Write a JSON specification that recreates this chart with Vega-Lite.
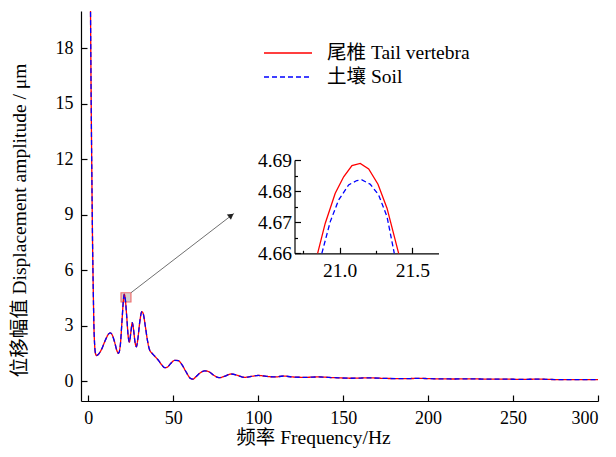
{
  "$schema": "https://vega.github.io/schema/vega-lite/v6.json",
  "width": 517,
  "height": 390,
  "autosize": {"type": "none"},
  "padding": {"left": 81, "top": 11, "right": 18, "bottom": 56},
  "config": {
    "view": {"stroke": null},
    "style": {"guide-label": {"font": "'Liberation Serif', serif"}, "guide-title": {"font": "'Liberation Serif', 'Noto Sans CJK SC', serif"}},
    "axis": {
      "grid": false,
      "labelFont": "'Liberation Serif', serif",
      "titleFont": "'Liberation Serif', 'Noto Sans CJK SC', serif",
      "labelFontSize": 18,
      "titleFontSize": 19.5,
      "titleFontWeight": "normal",
      "labelColor": "#000",
      "titleColor": "#000",
      "domainColor": "#000",
      "tickColor": "#000",
      "domainWidth": 1.2,
      "tickWidth": 1.2
    }
  },
  "datasets": {
    "main": [
      {"f": 0.9, "a": 26, "s": "尾椎 Tail vertebra"},
      {"f": 1.3, "a": 20, "s": "尾椎 Tail vertebra"},
      {"f": 1.7, "a": 15, "s": "尾椎 Tail vertebra"},
      {"f": 2.1, "a": 11, "s": "尾椎 Tail vertebra"},
      {"f": 2.5, "a": 7.5, "s": "尾椎 Tail vertebra"},
      {"f": 2.9, "a": 5, "s": "尾椎 Tail vertebra"},
      {"f": 3.3, "a": 3, "s": "尾椎 Tail vertebra"},
      {"f": 3.7, "a": 2, "s": "尾椎 Tail vertebra"},
      {"f": 4.2, "a": 1.5, "s": "尾椎 Tail vertebra"},
      {"f": 4.8, "a": 1.38, "s": "尾椎 Tail vertebra"},
      {"f": 6, "a": 1.45, "s": "尾椎 Tail vertebra"},
      {"f": 8, "a": 1.75, "s": "尾椎 Tail vertebra"},
      {"f": 10, "a": 2.2, "s": "尾椎 Tail vertebra"},
      {"f": 12, "a": 2.55, "s": "尾椎 Tail vertebra"},
      {"f": 13, "a": 2.6, "s": "尾椎 Tail vertebra"},
      {"f": 14, "a": 2.5, "s": "尾椎 Tail vertebra"},
      {"f": 15.5, "a": 2.1, "s": "尾椎 Tail vertebra"},
      {"f": 17, "a": 1.6, "s": "尾椎 Tail vertebra"},
      {"f": 17.8, "a": 1.5, "s": "尾椎 Tail vertebra"},
      {"f": 18.8, "a": 1.9, "s": "尾椎 Tail vertebra"},
      {"f": 19.8, "a": 3.2, "s": "尾椎 Tail vertebra"},
      {"f": 20.6, "a": 4.3, "s": "尾椎 Tail vertebra"},
      {"f": 21.15, "a": 4.689, "s": "尾椎 Tail vertebra"},
      {"f": 21.8, "a": 4.4, "s": "尾椎 Tail vertebra"},
      {"f": 22.6, "a": 3.5, "s": "尾椎 Tail vertebra"},
      {"f": 23.5, "a": 2.4, "s": "尾椎 Tail vertebra"},
      {"f": 24.2, "a": 2.1, "s": "尾椎 Tail vertebra"},
      {"f": 25, "a": 2.6, "s": "尾椎 Tail vertebra"},
      {"f": 25.9, "a": 3.15, "s": "尾椎 Tail vertebra"},
      {"f": 26.6, "a": 2.8, "s": "尾椎 Tail vertebra"},
      {"f": 27.5, "a": 2.1, "s": "尾椎 Tail vertebra"},
      {"f": 28.3, "a": 1.85, "s": "尾椎 Tail vertebra"},
      {"f": 29.2, "a": 2.3, "s": "尾椎 Tail vertebra"},
      {"f": 30.3, "a": 3.2, "s": "尾椎 Tail vertebra"},
      {"f": 31.5, "a": 3.75, "s": "尾椎 Tail vertebra"},
      {"f": 32.3, "a": 3.65, "s": "尾椎 Tail vertebra"},
      {"f": 33.5, "a": 3.0, "s": "尾椎 Tail vertebra"},
      {"f": 34.8, "a": 2.2, "s": "尾椎 Tail vertebra"},
      {"f": 36, "a": 1.7, "s": "尾椎 Tail vertebra"},
      {"f": 37.5, "a": 1.5, "s": "尾椎 Tail vertebra"},
      {"f": 39, "a": 1.35, "s": "尾椎 Tail vertebra"},
      {"f": 41, "a": 1.15, "s": "尾椎 Tail vertebra"},
      {"f": 43, "a": 0.9, "s": "尾椎 Tail vertebra"},
      {"f": 45, "a": 0.72, "s": "尾椎 Tail vertebra"},
      {"f": 46.5, "a": 0.75, "s": "尾椎 Tail vertebra"},
      {"f": 48.5, "a": 0.95, "s": "尾椎 Tail vertebra"},
      {"f": 51, "a": 1.12, "s": "尾椎 Tail vertebra"},
      {"f": 53, "a": 1.1, "s": "尾椎 Tail vertebra"},
      {"f": 55, "a": 0.9, "s": "尾椎 Tail vertebra"},
      {"f": 57.5, "a": 0.5, "s": "尾椎 Tail vertebra"},
      {"f": 60, "a": 0.15, "s": "尾椎 Tail vertebra"},
      {"f": 61.5, "a": 0.1, "s": "尾椎 Tail vertebra"},
      {"f": 63.5, "a": 0.25, "s": "尾椎 Tail vertebra"},
      {"f": 66, "a": 0.45, "s": "尾椎 Tail vertebra"},
      {"f": 68.5, "a": 0.55, "s": "尾椎 Tail vertebra"},
      {"f": 71, "a": 0.5, "s": "尾椎 Tail vertebra"},
      {"f": 74, "a": 0.3, "s": "尾椎 Tail vertebra"},
      {"f": 77, "a": 0.18, "s": "尾椎 Tail vertebra"},
      {"f": 80, "a": 0.25, "s": "尾椎 Tail vertebra"},
      {"f": 84, "a": 0.38, "s": "尾椎 Tail vertebra"},
      {"f": 88, "a": 0.3, "s": "尾椎 Tail vertebra"},
      {"f": 92, "a": 0.2, "s": "尾椎 Tail vertebra"},
      {"f": 96, "a": 0.25, "s": "尾椎 Tail vertebra"},
      {"f": 100, "a": 0.3, "s": "尾椎 Tail vertebra"},
      {"f": 105, "a": 0.25, "s": "尾椎 Tail vertebra"},
      {"f": 110, "a": 0.22, "s": "尾椎 Tail vertebra"},
      {"f": 115, "a": 0.27, "s": "尾椎 Tail vertebra"},
      {"f": 120, "a": 0.22, "s": "尾椎 Tail vertebra"},
      {"f": 128, "a": 0.2, "s": "尾椎 Tail vertebra"},
      {"f": 135, "a": 0.22, "s": "尾椎 Tail vertebra"},
      {"f": 145, "a": 0.18, "s": "尾椎 Tail vertebra"},
      {"f": 155, "a": 0.15, "s": "尾椎 Tail vertebra"},
      {"f": 165, "a": 0.17, "s": "尾椎 Tail vertebra"},
      {"f": 175, "a": 0.14, "s": "尾椎 Tail vertebra"},
      {"f": 185, "a": 0.13, "s": "尾椎 Tail vertebra"},
      {"f": 195, "a": 0.14, "s": "尾椎 Tail vertebra"},
      {"f": 205, "a": 0.12, "s": "尾椎 Tail vertebra"},
      {"f": 215, "a": 0.11, "s": "尾椎 Tail vertebra"},
      {"f": 225, "a": 0.12, "s": "尾椎 Tail vertebra"},
      {"f": 235, "a": 0.1, "s": "尾椎 Tail vertebra"},
      {"f": 245, "a": 0.1, "s": "尾椎 Tail vertebra"},
      {"f": 255, "a": 0.09, "s": "尾椎 Tail vertebra"},
      {"f": 265, "a": 0.1, "s": "尾椎 Tail vertebra"},
      {"f": 275, "a": 0.08, "s": "尾椎 Tail vertebra"},
      {"f": 285, "a": 0.08, "s": "尾椎 Tail vertebra"},
      {"f": 300, "a": 0.07, "s": "尾椎 Tail vertebra"},
      {"f": 0.9, "a": 26, "s": "土壤 Soil"},
      {"f": 1.3, "a": 20, "s": "土壤 Soil"},
      {"f": 1.7, "a": 15, "s": "土壤 Soil"},
      {"f": 2.1, "a": 11, "s": "土壤 Soil"},
      {"f": 2.5, "a": 7.5, "s": "土壤 Soil"},
      {"f": 2.9, "a": 5, "s": "土壤 Soil"},
      {"f": 3.3, "a": 3, "s": "土壤 Soil"},
      {"f": 3.7, "a": 2, "s": "土壤 Soil"},
      {"f": 4.2, "a": 1.5, "s": "土壤 Soil"},
      {"f": 4.8, "a": 1.38, "s": "土壤 Soil"},
      {"f": 6, "a": 1.45, "s": "土壤 Soil"},
      {"f": 8, "a": 1.75, "s": "土壤 Soil"},
      {"f": 10, "a": 2.2, "s": "土壤 Soil"},
      {"f": 12, "a": 2.55, "s": "土壤 Soil"},
      {"f": 13, "a": 2.6, "s": "土壤 Soil"},
      {"f": 14, "a": 2.5, "s": "土壤 Soil"},
      {"f": 15.5, "a": 2.1, "s": "土壤 Soil"},
      {"f": 17, "a": 1.6, "s": "土壤 Soil"},
      {"f": 17.8, "a": 1.5, "s": "土壤 Soil"},
      {"f": 18.8, "a": 1.9, "s": "土壤 Soil"},
      {"f": 19.8, "a": 3.2, "s": "土壤 Soil"},
      {"f": 20.6, "a": 4.3, "s": "土壤 Soil"},
      {"f": 21.15, "a": 4.6835, "s": "土壤 Soil"},
      {"f": 21.8, "a": 4.4, "s": "土壤 Soil"},
      {"f": 22.6, "a": 3.5, "s": "土壤 Soil"},
      {"f": 23.5, "a": 2.4, "s": "土壤 Soil"},
      {"f": 24.2, "a": 2.1, "s": "土壤 Soil"},
      {"f": 25, "a": 2.6, "s": "土壤 Soil"},
      {"f": 25.9, "a": 3.15, "s": "土壤 Soil"},
      {"f": 26.6, "a": 2.8, "s": "土壤 Soil"},
      {"f": 27.5, "a": 2.1, "s": "土壤 Soil"},
      {"f": 28.3, "a": 1.85, "s": "土壤 Soil"},
      {"f": 29.2, "a": 2.3, "s": "土壤 Soil"},
      {"f": 30.3, "a": 3.2, "s": "土壤 Soil"},
      {"f": 31.5, "a": 3.75, "s": "土壤 Soil"},
      {"f": 32.3, "a": 3.65, "s": "土壤 Soil"},
      {"f": 33.5, "a": 3.0, "s": "土壤 Soil"},
      {"f": 34.8, "a": 2.2, "s": "土壤 Soil"},
      {"f": 36, "a": 1.7, "s": "土壤 Soil"},
      {"f": 37.5, "a": 1.5, "s": "土壤 Soil"},
      {"f": 39, "a": 1.35, "s": "土壤 Soil"},
      {"f": 41, "a": 1.15, "s": "土壤 Soil"},
      {"f": 43, "a": 0.9, "s": "土壤 Soil"},
      {"f": 45, "a": 0.72, "s": "土壤 Soil"},
      {"f": 46.5, "a": 0.75, "s": "土壤 Soil"},
      {"f": 48.5, "a": 0.95, "s": "土壤 Soil"},
      {"f": 51, "a": 1.12, "s": "土壤 Soil"},
      {"f": 53, "a": 1.1, "s": "土壤 Soil"},
      {"f": 55, "a": 0.9, "s": "土壤 Soil"},
      {"f": 57.5, "a": 0.5, "s": "土壤 Soil"},
      {"f": 60, "a": 0.15, "s": "土壤 Soil"},
      {"f": 61.5, "a": 0.1, "s": "土壤 Soil"},
      {"f": 63.5, "a": 0.25, "s": "土壤 Soil"},
      {"f": 66, "a": 0.45, "s": "土壤 Soil"},
      {"f": 68.5, "a": 0.55, "s": "土壤 Soil"},
      {"f": 71, "a": 0.5, "s": "土壤 Soil"},
      {"f": 74, "a": 0.3, "s": "土壤 Soil"},
      {"f": 77, "a": 0.18, "s": "土壤 Soil"},
      {"f": 80, "a": 0.25, "s": "土壤 Soil"},
      {"f": 84, "a": 0.38, "s": "土壤 Soil"},
      {"f": 88, "a": 0.3, "s": "土壤 Soil"},
      {"f": 92, "a": 0.2, "s": "土壤 Soil"},
      {"f": 96, "a": 0.25, "s": "土壤 Soil"},
      {"f": 100, "a": 0.3, "s": "土壤 Soil"},
      {"f": 105, "a": 0.25, "s": "土壤 Soil"},
      {"f": 110, "a": 0.22, "s": "土壤 Soil"},
      {"f": 115, "a": 0.27, "s": "土壤 Soil"},
      {"f": 120, "a": 0.22, "s": "土壤 Soil"},
      {"f": 128, "a": 0.2, "s": "土壤 Soil"},
      {"f": 135, "a": 0.22, "s": "土壤 Soil"},
      {"f": 145, "a": 0.18, "s": "土壤 Soil"},
      {"f": 155, "a": 0.15, "s": "土壤 Soil"},
      {"f": 165, "a": 0.17, "s": "土壤 Soil"},
      {"f": 175, "a": 0.14, "s": "土壤 Soil"},
      {"f": 185, "a": 0.13, "s": "土壤 Soil"},
      {"f": 195, "a": 0.14, "s": "土壤 Soil"},
      {"f": 205, "a": 0.12, "s": "土壤 Soil"},
      {"f": 215, "a": 0.11, "s": "土壤 Soil"},
      {"f": 225, "a": 0.12, "s": "土壤 Soil"},
      {"f": 235, "a": 0.1, "s": "土壤 Soil"},
      {"f": 245, "a": 0.1, "s": "土壤 Soil"},
      {"f": 255, "a": 0.09, "s": "土壤 Soil"},
      {"f": 265, "a": 0.1, "s": "土壤 Soil"},
      {"f": 275, "a": 0.08, "s": "土壤 Soil"},
      {"f": 285, "a": 0.08, "s": "土壤 Soil"},
      {"f": 300, "a": 0.07, "s": "土壤 Soil"}
    ],
    "insetRed": [
      {"f": 20.849, "a": 4.66},
      {"f": 20.901, "a": 4.6696},
      {"f": 20.97, "a": 4.6793},
      {"f": 21.028, "a": 4.6846},
      {"f": 21.085, "a": 4.6882},
      {"f": 21.142, "a": 4.6889},
      {"f": 21.2, "a": 4.6871},
      {"f": 21.264, "a": 4.6822},
      {"f": 21.326, "a": 4.6745},
      {"f": 21.406, "a": 4.66}
    ],
    "insetBlue": [
      {"f": 20.878, "a": 4.66},
      {"f": 20.936, "a": 4.6702},
      {"f": 20.993, "a": 4.6771},
      {"f": 21.062, "a": 4.682},
      {"f": 21.119, "a": 4.6834},
      {"f": 21.154, "a": 4.6836},
      {"f": 21.211, "a": 4.6822},
      {"f": 21.268, "a": 4.6788},
      {"f": 21.326, "a": 4.6718},
      {"f": 21.376, "a": 4.66}
    ],
    "box": [{"f": 19.25, "f2": 25.1, "a": 4.27, "a2": 4.77}],
    "arrow": [{"f": 25.1, "a": 4.77, "f2": 85.8, "a2": 9.06}],
    "head": [{"f": 84.1, "a": 8.95}]
  },
  "layer": [
    {
      "layer": [
        {
          "data": {"name": "box"},
          "mark": {"type": "rect", "fill": "#c8c0c0", "fillOpacity": 0.8, "stroke": "#f07070", "strokeWidth": 1.2},
          "encoding": {
            "x": {"field": "f", "type": "quantitative", "title": "频率 Frequency/Hz"},
            "x2": {"field": "f2"},
            "y": {"field": "a", "type": "quantitative", "title": "位移幅值 Displacement amplitude / μm"},
            "y2": {"field": "a2"}
          }
        },
        {
          "data": {"name": "main"},
          "transform": [{"filter": "datum.s == '尾椎 Tail vertebra'"}],
          "mark": {"type": "line", "strokeWidth": 1.3, "clip": true, "interpolate": "monotone"},
          "encoding": {
            "x": {
              "field": "f", "type": "quantitative", "title": "频率 Frequency/Hz",
              "scale": {"domain": [-4.3, 300], "nice": false, "zero": false},
              "axis": {
                "values": [0, 50, 100, 150, 200, 250, 300],
                "labelFont": "'Liberation Serif', serif",
                "tickSize": -6, "labelPadding": 14,
                "titleX": 232, "titleY": 36, "titleBaseline": "middle", "titleAlign": "center"
              }
            },
            "y": {
              "field": "a", "type": "quantitative", "title": "位移幅值 Displacement amplitude / μm",
              "scale": {"domain": [-1.08, 20], "nice": false, "zero": false},
              "axis": {
                "values": [0, 3, 6, 9, 12, 15, 18],
                "labelFont": "'Liberation Serif', serif",
                "tickSize": -6, "labelPadding": 14,
                "titleX": -62, "titleY": 209, "titleBaseline": "middle", "titleAlign": "center", "titleAngle": -90
              }
            },
            "color": {
              "field": "s", "type": "nominal",
              "scale": {"domain": ["尾椎 Tail vertebra", "土壤 Soil"], "range": ["#ff0000", "#0000ff"]},
              "legend": {
                "title": null, "orient": "none", "legendX": 194, "legendY": 29, "padding": 0,
                "symbolType": "M-2,0H2", "symbolSize": 576, "symbolStrokeWidth": 1.3,
                "labelFont": "'Liberation Serif', 'Noto Sans CJK SC', serif", "labelFontSize": 19.5, "labelColor": "#000",
                "labelOffset": 26, "rowPadding": 1
              }
            },
            "strokeDash": {
              "field": "s", "type": "nominal",
              "scale": {"domain": ["尾椎 Tail vertebra", "土壤 Soil"], "range": [[1, 0], [5, 3]]},
              "legend": {
                "title": null, "orient": "none", "legendX": 194, "legendY": 29, "padding": 0,
                "symbolType": "M-2,0H2", "symbolSize": 576, "symbolStrokeWidth": 1.3,
                "labelFont": "'Liberation Serif', 'Noto Sans CJK SC', serif", "labelFontSize": 19.5, "labelColor": "#000",
                "labelOffset": 26, "rowPadding": 1
              }
            }
          }
        },
        {
          "data": {"name": "main"},
          "transform": [{"filter": "datum.s == '土壤 Soil'"}],
          "mark": {"type": "line", "strokeWidth": 1.3, "clip": true, "interpolate": "monotone"},
          "encoding": {
            "x": {"field": "f", "type": "quantitative", "title": "频率 Frequency/Hz"},
            "y": {"field": "a", "type": "quantitative", "title": "位移幅值 Displacement amplitude / μm"},
            "color": {"field": "s", "type": "nominal"},
            "strokeDash": {"field": "s", "type": "nominal"}
          }
        },
        {
          "data": {"name": "arrow"},
          "mark": {"type": "rule", "color": "#707070", "strokeWidth": 1},
          "encoding": {
            "x": {"field": "f", "type": "quantitative", "title": "频率 Frequency/Hz"},
            "x2": {"field": "f2"},
            "y": {"field": "a", "type": "quantitative", "title": "位移幅值 Displacement amplitude / μm"},
            "y2": {"field": "a2"}
          }
        },
        {
          "data": {"name": "head"},
          "mark": {"type": "point", "shape": "triangle-up", "filled": true, "color": "#202020", "size": 45, "angle": 52, "opacity": 1},
          "encoding": {
            "x": {"field": "f", "type": "quantitative", "title": "频率 Frequency/Hz"},
            "y": {"field": "a", "type": "quantitative", "title": "位移幅值 Displacement amplitude / μm"}
          }
        }
      ]
    },
    {
      "layer": [
        {
          "data": {"name": "insetRed"},
          "mark": {"type": "line", "color": "#ff0000", "strokeWidth": 1.3},
          "encoding": {
            "x": {
              "field": "f", "type": "quantitative",
              "scale": {"domain": [20.69, 21.68], "range": [213.5, 357.5], "nice": false, "zero": false},
              "axis": {
                "orient": "bottom", "offset": -147.7, "title": null,
                "values": [20.75, 21, 21.25, 21.5],
                "labelFont": "'Liberation Serif', serif",
                "labelExpr": "round(datum.value * 4) % 2 == 0 ? format(datum.value, '.1f') : ''",
                "tickSize": {"condition": {"test": "round(datum.value * 4) % 2 == 0", "value": -6}, "value": -3},
                "labelPadding": 14, "labelFontSize": 19.5
              }
            },
            "y": {
              "field": "a", "type": "quantitative",
              "scale": {"domain": [4.66, 4.69], "range": [242.3, 149], "nice": false, "zero": false},
              "axis": {
                "orient": "left", "offset": -213.5, "title": null,
                "values": [4.66, 4.665, 4.67, 4.675, 4.68, 4.685, 4.69],
                "labelFont": "'Liberation Serif', serif",
                "labelExpr": "round(datum.value * 1000) % 10 == 0 ? format(datum.value, '.2f') : ''",
                "tickSize": {"condition": {"test": "round(datum.value * 1000) % 10 == 0", "value": -6}, "value": -3},
                "labelPadding": 9, "labelFontSize": 19.5
              }
            }
          }
        },
        {
          "data": {"name": "insetBlue"},
          "mark": {"type": "line", "color": "#0000ff", "strokeWidth": 1.3, "strokeDash": [5, 3]},
          "encoding": {
            "x": {"field": "f", "type": "quantitative"},
            "y": {"field": "a", "type": "quantitative"}
          }
        }
      ]
    }
  ],
  "resolve": {"scale": {"x": "independent", "y": "independent"}}
}
